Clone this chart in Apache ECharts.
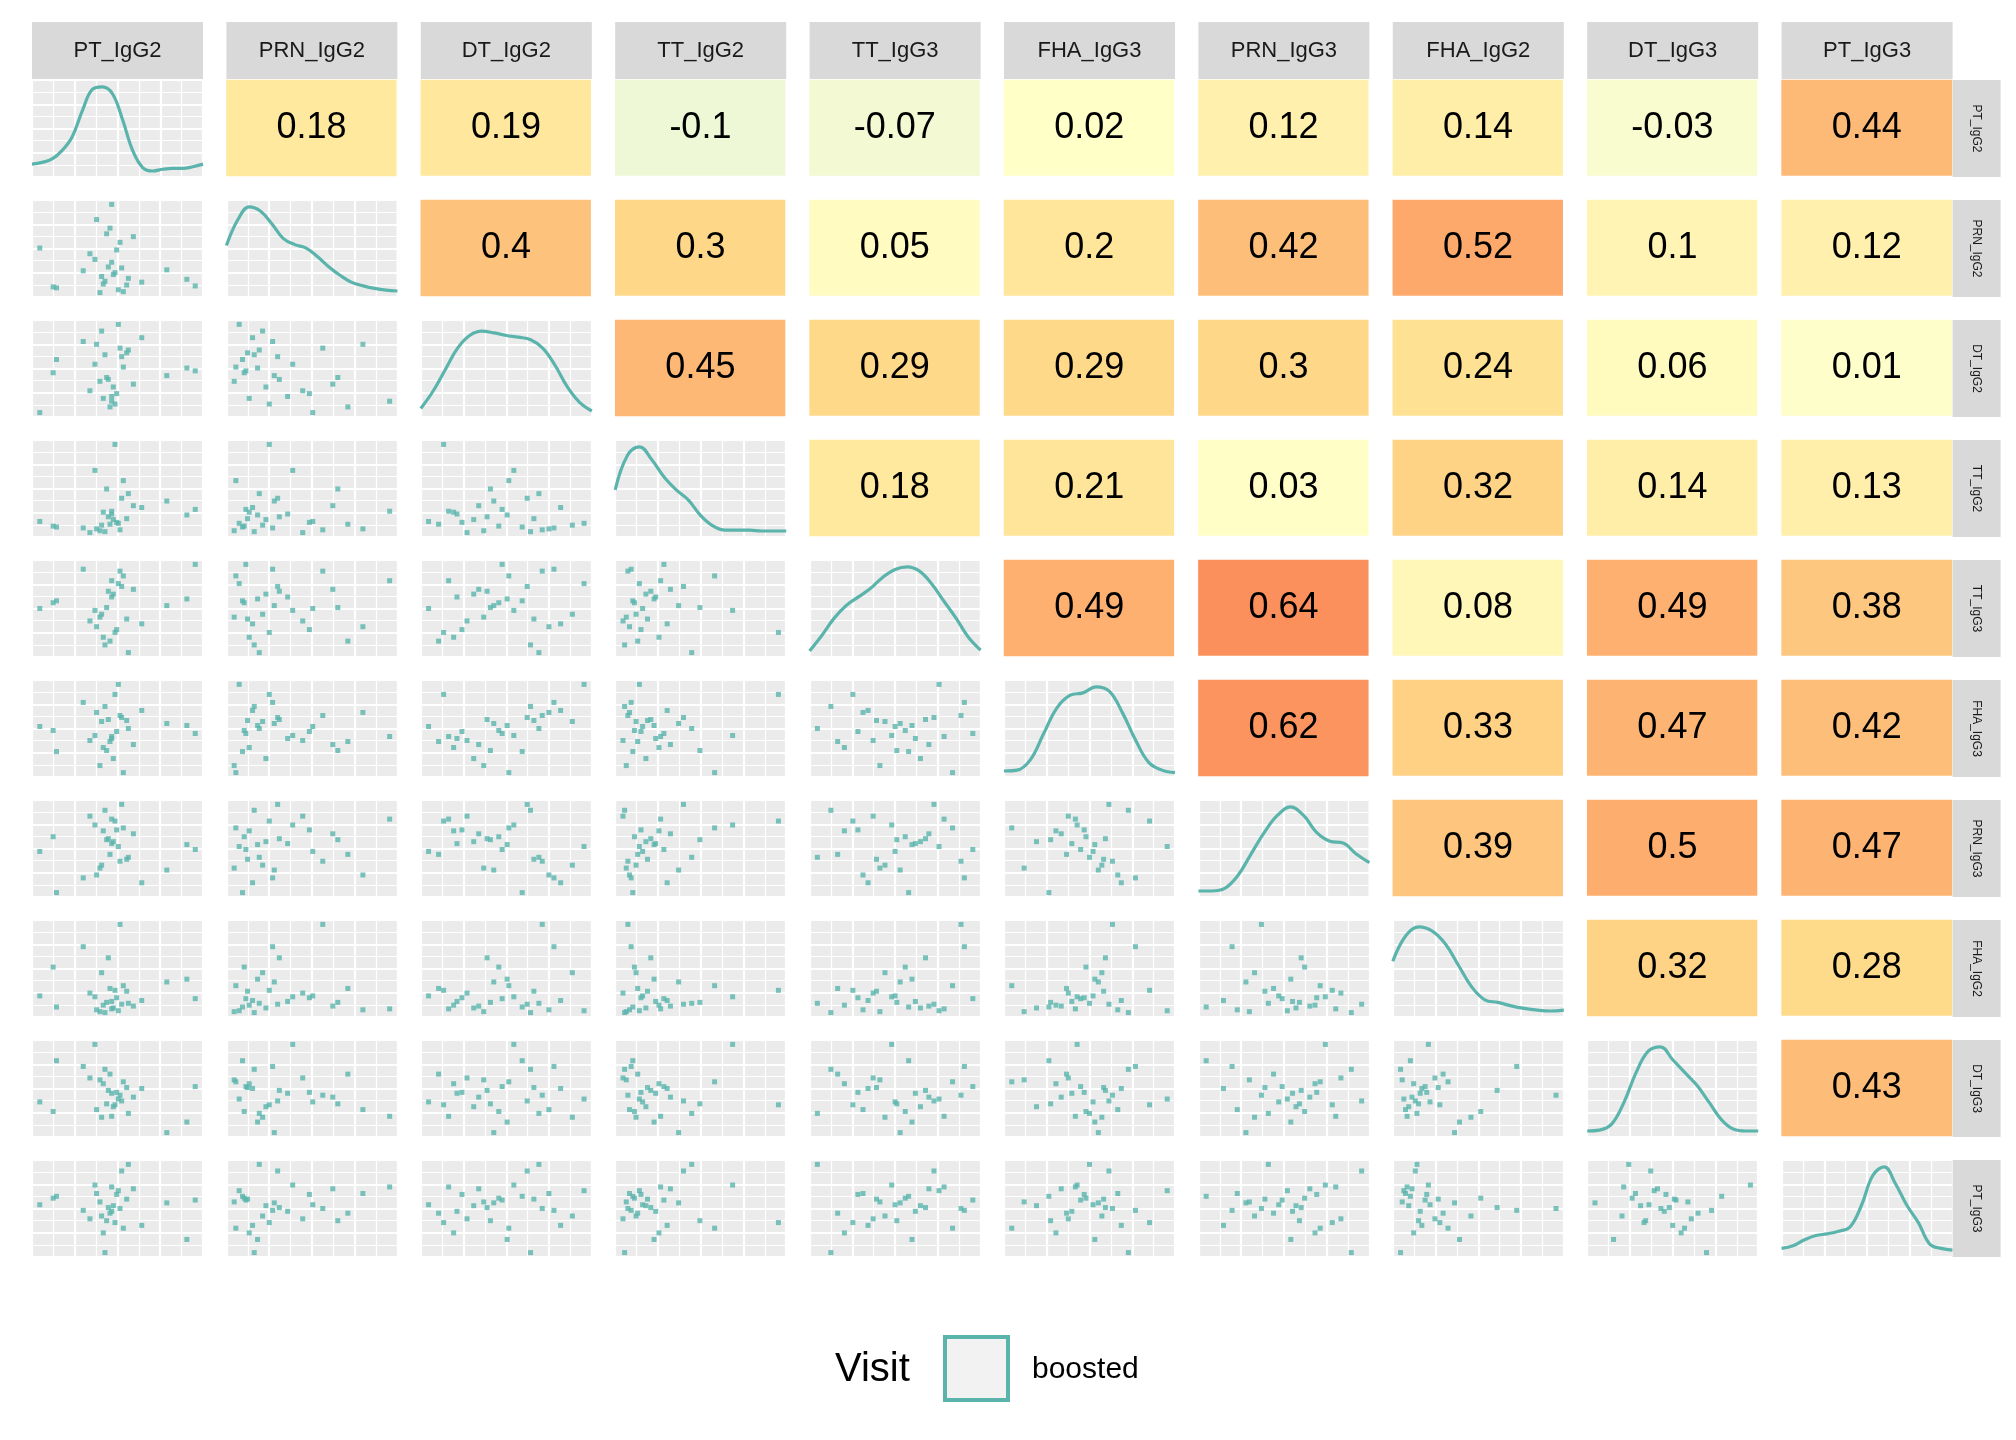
<!DOCTYPE html>
<html><head><meta charset="utf-8">
<script src="https://cdn.jsdelivr.net/npm/echarts@6/dist/echarts.min.js"></script>
<style>html,body{margin:0;padding:0;background:#fff}#c{width:2016px;height:1440px}</style>
</head><body><div id="c"></div>
<script>
const varNames = ['PT_IgG2','PRN_IgG2','DT_IgG2','TT_IgG2','TT_IgG3','FHA_IgG3','PRN_IgG3','FHA_IgG2','DT_IgG3','PT_IgG3'];
const PT_IgG2  = [4.5,3.6,5.2,0.2,4.1,5.8,3.9,9.5,4.7,1.2,4.3,5.5,3.2,4.9,7.8,4.0,5.0,3.5,4.6,6.3,1.0,4.4,5.1,3.8,9.0,4.8,2.8,4.2,5.4,4.5];
const PRN_IgG2 = [3.5,8.0,0.4,5.0,1.5,6.2,2.0,1.0,2.4,0.8,3.0,1.8,4.4,0.6,2.7,1.2,5.6,3.8,2.2,1.4,0.9,7.1,2.9,0.3,1.7,4.8,2.6,6.5,1.1,9.6];
const DT_IgG2  = [2.0,7.5,5.1,0.3,6.4,3.3,8.9,4.7,1.2,5.9,3.8,6.9,2.6,9.6,4.2,1.8,7.1,5.4,3.0,8.2,4.5,0.9,6.2,3.6,5.0,2.3,7.8,4.0,6.6,1.5];
const TT_IgG2  = [2.2,0.6,5.8,1.4,0.3,3.1,1.0,2.7,9.7,0.8,1.9,4.4,0.2,1.2,3.6,2.4,0.5,6.9,1.6,2.9,0.9,1.1,3.9,0.4,2.1,1.3,0.7,4.9,1.7,2.5];
const TT_IgG3  = [6.2,3.1,8.4,5.0,1.2,7.0,4.4,9.6,2.5,5.8,6.8,0.4,3.7,7.6,5.3,2.0,8.9,4.8,6.5,3.4,5.6,1.6,7.3,4.1,6.0,2.8,9.1,5.1,3.9,7.9];
const FHA_IgG3 = [4.2,6.8,0.8,5.4,7.4,3.6,5.9,4.7,8.6,2.9,6.1,5.2,4.0,9.6,5.7,3.3,6.5,4.5,2.2,7.0,5.0,3.9,6.3,1.5,5.5,4.9,7.8,3.0,6.0,4.4];
const PRN_IgG3 = [5.6,2.4,7.2,4.8,9.0,6.6,3.4,5.0,7.9,0.6,6.1,4.2,8.4,5.3,2.9,6.9,3.8,7.5,5.8,1.6,6.3,4.5,9.6,3.1,5.5,7.0,2.1,6.0,4.0,8.1];
const FHA_IgG2 = [1.5,0.6,3.2,2.1,0.3,1.0,4.6,1.8,2.7,0.9,6.2,1.3,2.4,0.5,3.6,1.1,9.8,2.0,0.8,1.6,5.2,2.9,1.2,0.4,3.9,1.9,7.4,1.4,2.6,0.7];
const DT_IgG3  = [4.4,2.7,5.6,3.5,6.9,4.0,1.9,5.1,3.2,7.8,4.7,2.3,6.0,3.8,0.3,5.4,4.2,9.5,3.0,4.9,2.5,6.4,3.6,5.8,1.4,4.5,7.2,3.3,5.0,2.0];
const PT_IgG3  = [4.6,6.5,2.8,5.3,0.2,7.0,4.1,5.8,3.4,6.2,5.0,9.6,3.8,6.8,5.5,2.3,4.9,7.4,5.2,3.1,6.0,4.4,8.9,5.6,1.6,6.4,4.7,3.6,5.9,7.2];
const values = [PT_IgG2,PRN_IgG2,DT_IgG2,TT_IgG2,TT_IgG3,FHA_IgG3,PRN_IgG3,FHA_IgG2,DT_IgG3,PT_IgG3];

const dens_PT_IgG2  = [0.10,0.12,0.16,0.26,0.42,0.72,0.97,1.00,0.92,0.62,0.26,0.06,0.02,0.04,0.05,0.05,0.07,0.10];
const dens_PRN_IgG2 = [0.55,0.85,1.00,0.95,0.80,0.63,0.56,0.52,0.42,0.30,0.20,0.12,0.08,0.05,0.03,0.02];
const dens_DT_IgG2  = [0.05,0.25,0.50,0.75,0.90,0.95,0.93,0.90,0.88,0.85,0.75,0.55,0.30,0.12,0.02];
const dens_TT_IgG2  = [0.50,0.90,1.00,0.85,0.65,0.50,0.38,0.20,0.08,0.03,0.03,0.03,0.02,0.02,0.02];
const dens_TT_IgG3  = [0.02,0.20,0.40,0.55,0.65,0.75,0.88,0.97,1.00,0.95,0.80,0.60,0.40,0.18,0.03];
const dens_FHA_IgG3 = [0.02,0.03,0.15,0.45,0.75,0.90,0.93,1.00,0.95,0.70,0.38,0.12,0.03,0.00];
const dens_PRN_IgG3 = [0.02,0.02,0.05,0.20,0.45,0.70,0.90,1.00,0.90,0.70,0.60,0.58,0.45,0.35];
const dens_FHA_IgG2 = [0.60,0.90,1.00,0.95,0.80,0.55,0.30,0.15,0.12,0.08,0.05,0.03,0.02,0.03];
const dens_DT_IgG3  = [0.02,0.03,0.10,0.35,0.70,0.95,1.00,0.85,0.70,0.55,0.35,0.15,0.04,0.02,0.02];
const dens_PT_IgG3  = [0.05,0.08,0.15,0.20,0.22,0.25,0.30,0.55,0.90,1.00,0.80,0.55,0.35,0.10,0.05,0.03];
const densities = [dens_PT_IgG2,dens_PRN_IgG2,dens_DT_IgG2,dens_TT_IgG2,dens_TT_IgG3,dens_FHA_IgG3,dens_PRN_IgG3,dens_FHA_IgG2,dens_DT_IgG3,dens_PT_IgG3];

const corrRows = [
  [0.18,0.19,-0.1,-0.07,0.02,0.12,0.14,-0.03,0.44],
  [0.4,0.3,0.05,0.2,0.42,0.52,0.1,0.12],
  [0.45,0.29,0.29,0.3,0.24,0.06,0.01],
  [0.18,0.21,0.03,0.32,0.14,0.13],
  [0.49,0.64,0.08,0.49,0.38],
  [0.62,0.33,0.47,0.42],
  [0.39,0.5,0.47],
  [0.32,0.28],
  [0.43]
];

const N = 10, X0 = 32, PW = 171, SX = 194.4, Y0 = 80, PH = 97, SY = 120;
const teal = '#5AB4AC';
const grids = [], xAxes = [], yAxes = [], series = [], graphics = [];

function addAxis(gi, mn, mx, isY) {
  const iv = (mx - mn) / 4;
  const ax = {gridIndex: gi, type: 'value', min: mn, max: mx, interval: iv,
    axisLine:{show:false}, axisTick:{show:false}, axisLabel:{show:false},
    splitLine:{show:true, lineStyle:{color:'#fff', width:2.2}},
    minorTick:{show:false, splitNumber:2},
    minorSplitLine:{show:true, lineStyle:{color:'#fff', width:1.2}}};
  (isY ? yAxes : xAxes).push(ax);
}
function range(a){ const mn=Math.min(...a), mx=Math.max(...a), p=(mx-mn)*0.05; return [mn-p, mx+p]; }

let gi = 0;
for (let r = 0; r < N; r++) {
  for (let c = 0; c <= r; c++) {
    grids.push({left: X0 + c*SX, top: Y0 + r*SY, width: PW, height: PH, show: true, backgroundColor: '#EBEBEB', borderWidth: 0});
    if (r === c) {
      const d = densities[r];
      addAxis(gi, 0, d.length - 1, false);
      addAxis(gi, -0.05, 1.08, true);
      series.push({type:'line', xAxisIndex: gi, yAxisIndex: gi, smooth: 0.4, symbol:'none',
        data: d.map((v,i)=>[i,v]), lineStyle:{color: teal, width: 3.2}});
    } else {
      const xs = values[c], ys = values[r];
      const rx = range(xs), ry = range(ys);
      addAxis(gi, rx[0], rx[1], false);
      addAxis(gi, ry[0], ry[1], true);
      series.push({type:'scatter', xAxisIndex: gi, yAxisIndex: gi, symbol:'rect', symbolSize: 5,
        data: xs.map((v,i)=>[v, ys[i]]), itemStyle:{color: teal}});
    }
    gi++;
  }
}
const hmGrid = gi;
grids.push({left: X0 - 12, top: Y0 - 12, width: N*SX, height: N*SY});
xAxes.push({gridIndex: hmGrid, type:'category', data: varNames, show:false});
yAxes.push({gridIndex: hmGrid, type:'category', data: varNames, inverse: true, show:false});
const hmData = [];
corrRows.forEach((row, r) => row.forEach((v, k) => hmData.push([r + 1 + k, r, v])));
series.push({type:'heatmap', xAxisIndex: hmGrid, yAxisIndex: hmGrid, data: hmData,
  itemStyle:{borderColor:'#fff', borderWidth: 24},
  label:{show:true, fontSize: 36, color:'#000', fontFamily:'Liberation Sans, Arial',
    formatter: p => String(p.value[2])},
  emphasis:{disabled:true}});

varNames.forEach((n, i) => {
  graphics.push({type:'rect', z: 100, shape:{x: X0 + i*SX, y: 22, width: PW, height: 57}, style:{fill:'#D9D9D9'}});
  graphics.push({type:'text', z: 101, x: X0 + i*SX + PW/2, y: 51, style:{text: n, fontSize: 22, fill:'#1a1a1a', fontFamily:'Liberation Sans, Arial', align:'center', verticalAlign:'middle'}});
  graphics.push({type:'rect', z: 100, shape:{x: X0 + 9*SX + PW, y: Y0 + i*SY, width: 48, height: PH}, style:{fill:'#D9D9D9'}});
  graphics.push({type:'text', z: 101, x: X0 + 9*SX + PW + 24, y: Y0 + i*SY + PH/2, rotation: -Math.PI/2,
    style:{text: n, fontSize: 12, fill:'#1a1a1a', fontFamily:'Liberation Sans, Arial', align:'center', verticalAlign:'middle'}});
});
graphics.push({type:'text', z: 101, x: 835, y: 1370, style:{text:'Visit', fontSize: 40, fill:'#000', fontFamily:'Liberation Sans, Arial', verticalAlign:'middle'}});
graphics.push({type:'rect', z: 101, shape:{x: 945, y: 1337, width: 63, height: 63}, style:{fill:'#F2F2F2', stroke: teal, lineWidth: 4}});
graphics.push({type:'text', z: 101, x: 1032, y: 1370, style:{text:'boosted', fontSize: 30, fill:'#000', fontFamily:'Liberation Sans, Arial', verticalAlign:'middle'}});

const chart = echarts.init(document.getElementById('c'));
chart.setOption({
  animation: false,
  backgroundColor: '#fff',
  grid: grids, xAxis: xAxes, yAxis: yAxes, series: series, graphic: graphics,
  visualMap: {show:false, seriesIndex: series.length - 1, dimension: 2, min: -0.1, max: 0.64,
    inRange:{color:['#EEF7D6','#FFFFC8','#FFEDA6','#FEDD8C','#FDC47D','#FDAA6C','#FC905C']}}
});
</script></body></html>
